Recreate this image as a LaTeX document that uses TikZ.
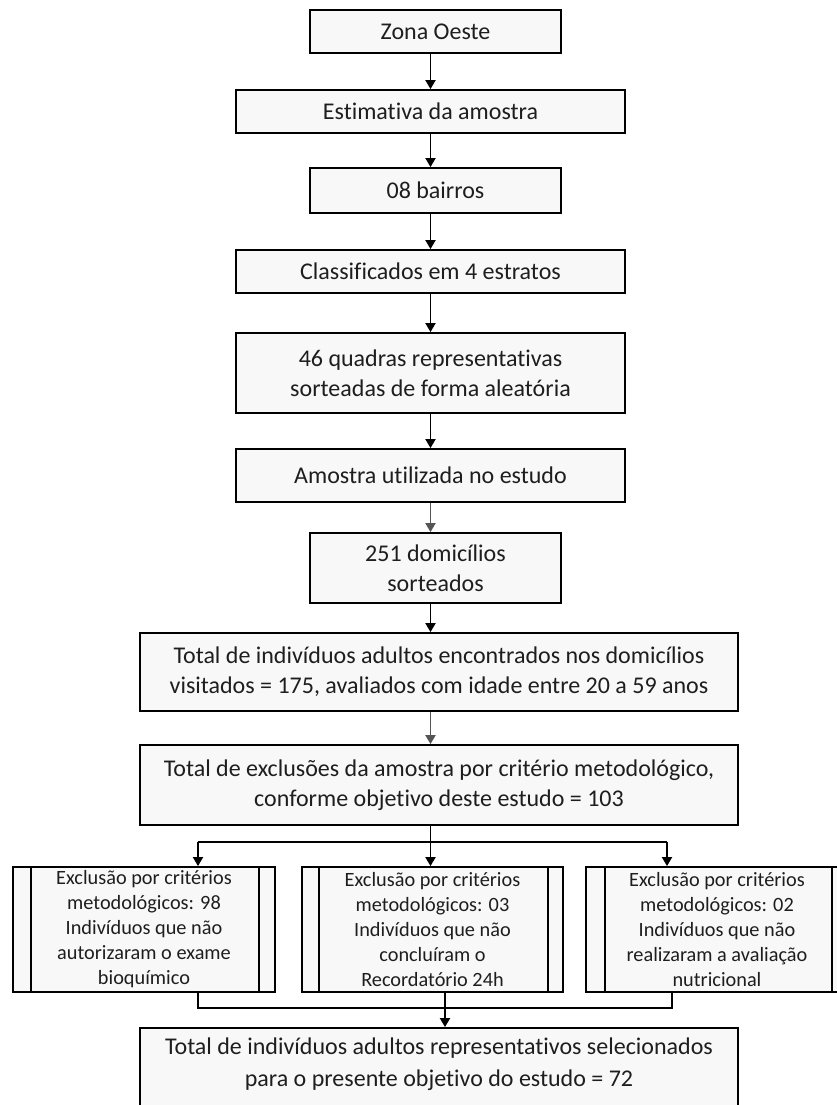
\documentclass[tikz,border=0pt]{standalone}
\usepackage{fontspec}
\setmainfont{Carlito}[Ligatures=NoCommon]
\usetikzlibrary{arrows.meta,calc}
\definecolor{boxfill}{HTML}{F8F8F8}
\definecolor{txt}{HTML}{1E1E1E}
\definecolor{lgrey}{HTML}{555555}
\tikzset{
  box/.style={draw=black, line width=1.8pt, fill=boxfill, text=txt, inner sep=0pt, align=center,
    font=\fontsize{24}{30}\selectfont},
  subbox/.style={box, font=\fontsize{20.3}{25}\selectfont},
  link/.style={draw=black, line width=1.8pt},
  arr/.style={link, -{Triangle[length=9pt,width=10pt]}},
  garr/.style={arr, draw=lgrey}
}
\begin{document}
\begin{tikzpicture}[x=1pt,y=-1pt]
\useasboundingbox (0,0) rectangle (837,1105);
\clip (0,0) rectangle (837,1105);
\fill[white] (0,0) rectangle (837,1105);
% main column
\node[box, minimum width=251pt, minimum height=43pt] (n1) at (435.5,31.5) {Zona Oeste};
\node[box, minimum width=389pt, minimum height=43pt] (n2) at (430.5,111.5) {Estimativa da amostra};
\node[box, minimum width=251pt, minimum height=45pt] (n3) at (435.5,190.5) {08 bairros};
\node[box, minimum width=389pt, minimum height=43pt] (n4) at (430.5,271.5) {Classificados em 4 estratos};
\node[box, minimum width=389pt, minimum height=80pt] (n5) at (430.5,373) {46 quadras representativas\\sorteadas de forma aleatória};
\node[box, minimum width=389pt, minimum height=53pt] (n6) at (430.5,475.5) {Amostra utilizada no estudo};
\node[box, minimum width=251pt, minimum height=70pt] (n7) at (435.5,568) {251 domicílios\\sorteados};
\node[box, minimum width=598pt, minimum height=78pt] (n8) at (439,672) {Total de indivíduos adultos encontrados nos domicílios\\visitados = 175, avaliados com idade entre 20 a 59 anos};
\node[box, minimum width=598pt, minimum height=80pt] (n9) at (439,785) {Total de exclusões da amostra por critério metodológico,\\conforme objetivo deste estudo = 103};
% sub boxes
\node[subbox, minimum width=262pt, minimum height=125pt] (L) at (144,929.5) {Exclusão por critérios\\metodológicos: 98\\Indivíduos que não\\autorizaram o exame\\bioquímico};
\node[subbox, minimum width=261pt, minimum height=125pt] (M) at (432.5,929.5) {Exclusão por critérios\\metodológicos: 03\\Indivíduos que não\\concluíram o\\Recordatório 24h};
\node[subbox, minimum width=262pt, minimum height=125pt] (R) at (717,929.5) {Exclusão por critérios\\metodológicos: 02\\Indivíduos que não\\realizaram a avaliação\\nutricional};
\foreach \b/\l/\r in {L/19/17, M/18/16, R/20/17}{
  \draw[link] ([xshift=\l pt]\b.north west) -- ([xshift=\l pt]\b.south west);
  \draw[link] ([xshift=-\r pt]\b.north east) -- ([xshift=-\r pt]\b.south east);
}
% final box
\node[box, minimum width=598pt, minimum height=104pt] (F) at (439,1080) {};
\node[text=txt, align=center, inner sep=0pt, font=\fontsize{24}{32}\selectfont, anchor=north] (Ft) at ([yshift=-11pt]F.north) {Total de indivíduos adultos representativos selecionados\\para o presente objetivo do estudo = 72};
% main arrows
\draw[arr] (n1.south -| n2.south) -- (n2.north);
\draw[arr] (n2.south) -- (n3.north -| n2.south);
\draw[arr] (n3.south -| n2.south) -- (n4.north);
\draw[arr] (n4.south) -- (n5.north);
\draw[arr] (n5.south) -- (n6.north);
\draw[garr] (n6.south) -- (n7.north -| n6.south);
\draw[arr] (n7.south -| n6.south) -- (n8.north -| n6.south);
\draw[garr] (n8.south -| n6.south) -- (n9.north -| n6.south);
% branch to sub boxes
\coordinate (jl) at (198,842);
\coordinate (jr) at (667,842);
\draw[link] (n9.south -| n6.south) -- (n6.south |- jl);
\draw[link] (jl) -- (jr);
\draw[arr] (jl) -- (jl |- L.north);
\draw[arr] (jr) -- (jr |- R.north);
\draw[arr] (n6.south |- jl) -- (M.north -| n6.south);
% merge to final
\coordinate (ml) at (198,1008);
\coordinate (mr) at (672,1008);
\coordinate (mc) at (445,1008);
\draw[link] (ml |- L.south) -- (ml) -- (mr) -- (mr |- R.south);
\draw[arr] (mc |- M.south) -- (mc |- F.north);
\end{tikzpicture}
\end{document}
